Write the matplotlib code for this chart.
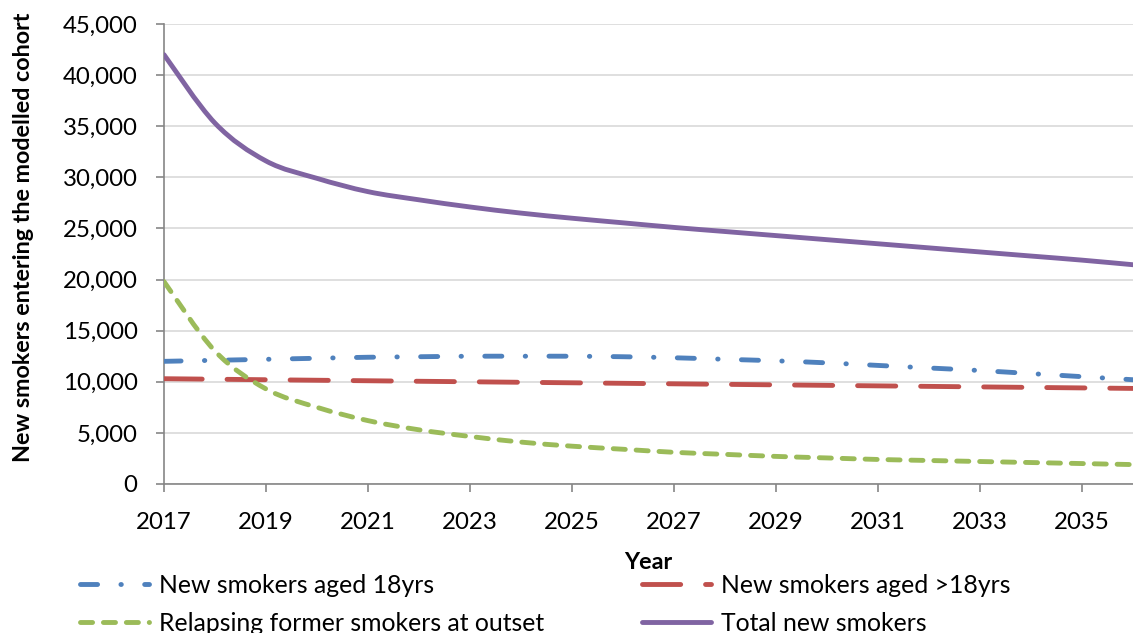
import numpy as np
import matplotlib.pyplot as plt
from matplotlib.path import Path
from matplotlib.patches import PathPatch
from matplotlib.lines import Line2D

years = np.arange(2017, 2037)

aged_18 = [12000, 12100, 12200, 12300, 12400, 12450, 12500, 12500, 12500, 12450,
           12350, 12200, 12050, 11850, 11600, 11350, 11100, 10800, 10500, 10200]
aged_over_18 = [10300, 10250, 10200, 10150, 10100, 10050, 10000, 9950, 9900, 9850,
                9800, 9750, 9700, 9650, 9600, 9550, 9500, 9450, 9400, 9350]
relapsing = [19800, 13000, 9300, 7500, 6200, 5300, 4650, 4100, 3700, 3400,
             3100, 2900, 2700, 2550, 2400, 2300, 2200, 2100, 2000, 1900]
total = [42000, 35300, 31600, 29900, 28600, 27800, 27100, 26500, 26000, 25550,
         25100, 24700, 24300, 23900, 23500, 23100, 22700, 22300, 21900, 21450]

labels = ['New smokers aged 18yrs', 'New smokers aged >18yrs',
          'Relapsing former smokers at outset', 'Total new smokers']
colors = ['#4F81BD', '#C0504D', '#9BBB59', '#8064A2']

plt.rcParams['font.family'] = ['Lato', 'DejaVu Sans']
plt.rcParams['lines.scale_dashes'] = False


# excel-style smoothed line: bezier through the data points
def smooth_path(x, y):
    pts = np.column_stack([x, y]).astype(float)
    ext = np.vstack([pts[0], pts, pts[-1]])
    verts = [pts[0]]
    codes = [Path.MOVETO]
    for i in range(len(pts) - 1):
        p0, p1, p2, p3 = ext[i], ext[i + 1], ext[i + 2], ext[i + 3]
        verts += [p1 + (p2 - p0) / 6, p2 - (p3 - p1) / 6, p2]
        codes += [Path.CURVE4] * 3
    return Path(verts, codes)


fig = plt.figure(figsize=(11.33, 6.33), dpi=100)
ax = fig.add_axes([164/1133, 1-484/633, 1-164/1133, (484-24)/633])

lw = 3.5
styles = [(0, (12.3, 16.8, 0.3, 16.8)), (0, (27.5, 17.9)), (0, (8.7, 7.8)), '-']
handles = []
for vals, c, ls in zip([aged_18, aged_over_18, relapsing, total], colors, styles):
    patch = PathPatch(smooth_path(years, vals), fill=False, edgecolor=c, lw=lw,
                      linestyle=ls, capstyle='round', zorder=3)
    ax.add_patch(patch)
    handles.append(Line2D([], [], color=c, lw=lw, linestyle=ls,
                          dash_capstyle='round', solid_capstyle='round'))

ax.set_xlim(2017, 2036)
ax.set_ylim(0, 45000)
ax.set_xticks(np.arange(2017, 2036, 2))
ax.set_yticks(np.arange(0, 45001, 5000))
ax.set_yticklabels([f'{v:,}' for v in range(0, 45001, 5000)])
ax.grid(axis='y', color='#D9D9D9', lw=1.2)
ax.set_axisbelow(True)
for s in ['top', 'right']:
    ax.spines[s].set_visible(False)
for s in ['left', 'bottom']:
    ax.spines[s].set_color('#868686')
    ax.spines[s].set_linewidth(1.2)
ax.tick_params(axis='both', colors='#868686', labelcolor='black', labelsize=17.3,
               length=6, width=1.2)
ax.tick_params(axis='y', pad=13)
ax.tick_params(axis='x', pad=14)

ax.set_xlabel('Year', fontsize=16.8, fontweight='bold', labelpad=14)
ax.set_ylabel('New smokers entering the modelled cohort', fontsize=16.8,
              fontweight='bold')
ax.yaxis.set_label_coords(-(164-34)/969, (484-237.5)/460)

legend_kw = dict(loc='upper left', frameon=False, fontsize=17.8, handlelength=2.8,
                 handletextpad=0.4, labelspacing=0.6, borderaxespad=0,
                 borderpad=0)
fig.legend([handles[0], handles[2]], [labels[0], labels[2]],
           bbox_to_anchor=(80/1133, 1-574/633), **legend_kw)
fig.legend([handles[1], handles[3]], [labels[1], labels[3]],
           bbox_to_anchor=(642/1133, 1-574/633), **legend_kw)

fig.savefig('out.png', dpi=100)
